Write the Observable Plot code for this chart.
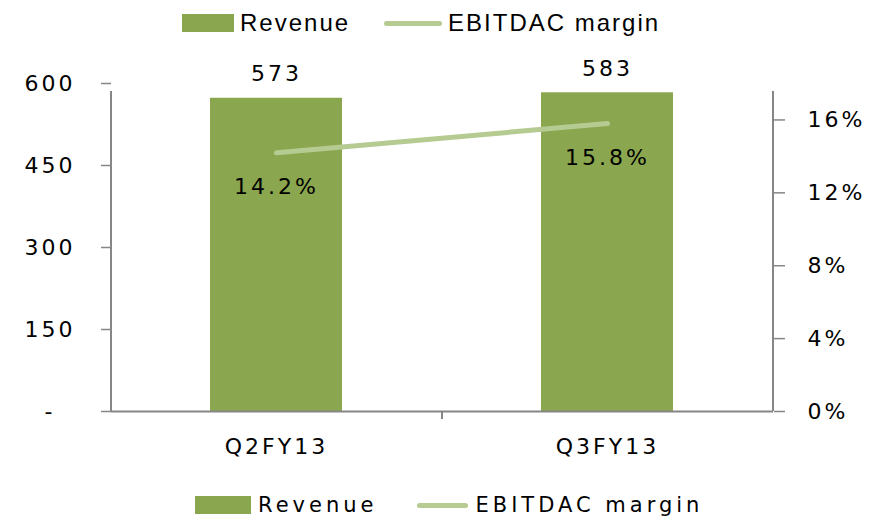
<!DOCTYPE html>
<html>
<head>
<meta charset="utf-8">
<script src="https://cdn.jsdelivr.net/npm/d3@7"></script>
<script src="https://cdn.jsdelivr.net/npm/@observablehq/plot@0.6"></script>
<style>
  html, body { margin: 0; padding: 0; background: #fff; }
  body { width: 886px; height: 518px; position: relative; overflow: hidden; }
  .legend { position: absolute; left: 0; display: flex; align-items: center; white-space: nowrap; color: #000; }
  #legTop { top: 0; height: 46px; padding-left: 182px; font-family: "Liberation Sans", Arial, sans-serif; font-size: 24px; letter-spacing: 2px; }
  #legBot { top: 492px; height: 26px; line-height: 24px; padding-left: 195px; font-family: "DejaVu Sans", Verdana, sans-serif; font-size: 21px; letter-spacing: 4px; }
  .sw { display: inline-block; background: #8aa64e; }
  .ln { display: inline-block; background: #b5cb92; border-radius: 3px; }
  #chart { position: absolute; top: 44px; left: 0; }
</style>
</head>
<body>
<div id="legTop" class="legend">
  <span class="sw" style="width:52px;height:18px;margin-right:6px"></span><span>Revenue</span>
  <span class="ln" style="width:58px;height:5px;margin-left:34px;margin-right:6px"></span><span>EBITDAC margin</span>
</div>
<div id="chart"></div>
<div id="legBot" class="legend">
  <span class="sw" style="width:56px;height:18px;margin-right:7px"></span><span>Revenue</span>
  <span class="ln" style="width:51px;height:5px;margin-left:40px;margin-right:7px"></span><span>EBITDAC margin</span>
</div>
<script>
const categories = ["Q2FY13", "Q3FY13"];
const revenue = [573, 583];
const margin = [14.2, 15.8];          // EBITDAC margin, %
const leftTicks = [0, 150, 300, 450, 600];
const rightTicks = [0, 4, 8, 12, 16]; // %
const leftMax = 600;
const rightMax = 18;

const toLeft = p => p * leftMax / rightMax;
const data = categories.map((c, i) => ({cat: c, revenue: revenue[i], margin: margin[i]}));

const W = 886, H = 444, ML = 111, MR = 113, MT = 39, MB = 77;
const xOpts = {type: "band", domain: categories, paddingInner: 0.6, paddingOuter: 0.3};
const xs = Plot.scale({x: {...xOpts, range: [ML, W - MR]}});
const step = xs.step;

const axisGray = "#868686";
const font = {fontFamily: "DejaVu Sans, Verdana, sans-serif", fontSize: 22};

const plot = Plot.plot({
  width: W, height: H,
  marginLeft: ML, marginRight: MR, marginTop: MT, marginBottom: MB,
  style: {fontFamily: "DejaVu Sans, Verdana, sans-serif", fontSize: "22px", letterSpacing: "3px", color: "#000", background: "white"},
  x: {...xOpts, axis: null, label: null},
  y: {domain: [0, leftMax], axis: null, label: null},
  marks: [
    Plot.barY(data, {x: "cat", y: "revenue", fill: "#8aa64e"}),
    // axis lines
    Plot.ruleY([0], {stroke: axisGray, strokeWidth: 2}),
    Plot.ruleX([categories[0]], {dx: -step / 2, y1: 0, y2: leftMax, insetBottom: -8, stroke: axisGray, strokeWidth: 2}),
    Plot.ruleX([categories[categories.length - 1]], {dx: step / 2, y1: 0, y2: leftMax, insetBottom: -8, stroke: axisGray, strokeWidth: 2}),
    Plot.ruleX(categories.slice(0, -1), {dx: step / 2, y1: 0, y2: 0, insetBottom: -8, stroke: axisGray, strokeWidth: 2}),
    // left axis
    Plot.axisY({ticks: leftTicks, anchor: "left", label: null, tickSize: 10, tickPadding: 26, stroke: axisGray, strokeWidth: 1.5,
      tickFormat: d => d === 0 ? "-\u00a0\u00a0" : String(d), fill: "#000", ...font}),
    // right axis (margin %)
    Plot.axisY(rightTicks.map(toLeft), {anchor: "right", label: null, tickSize: 11, tickPadding: 23, stroke: axisGray, strokeWidth: 1.5,
      tickFormat: d => Math.round(d * rightMax / leftMax) + "%", fill: "#000", ...font}),
    // bottom category labels
    Plot.axisX({anchor: "bottom", label: null, tickSize: 0, tickPadding: 27, fill: "#000", ...font}),
    // margin line
    Plot.line(data, {x: "cat", y: d => toLeft(d.margin), stroke: "#b5cb92", strokeWidth: 5, strokeLinecap: "round"}),
    // labels
    Plot.text(data, {x: "cat", y: "revenue", text: d => String(d.revenue), dy: -24, fill: "#000", ...font}),
    Plot.text(data, {x: "cat", y: d => toLeft(d.margin), text: d => d.margin.toFixed(1) + "%", dy: 34, fill: "#000", ...font, style: "letter-spacing:1px"})
  ]
});
document.getElementById("chart").append(plot);
</script>
</body>
</html>
